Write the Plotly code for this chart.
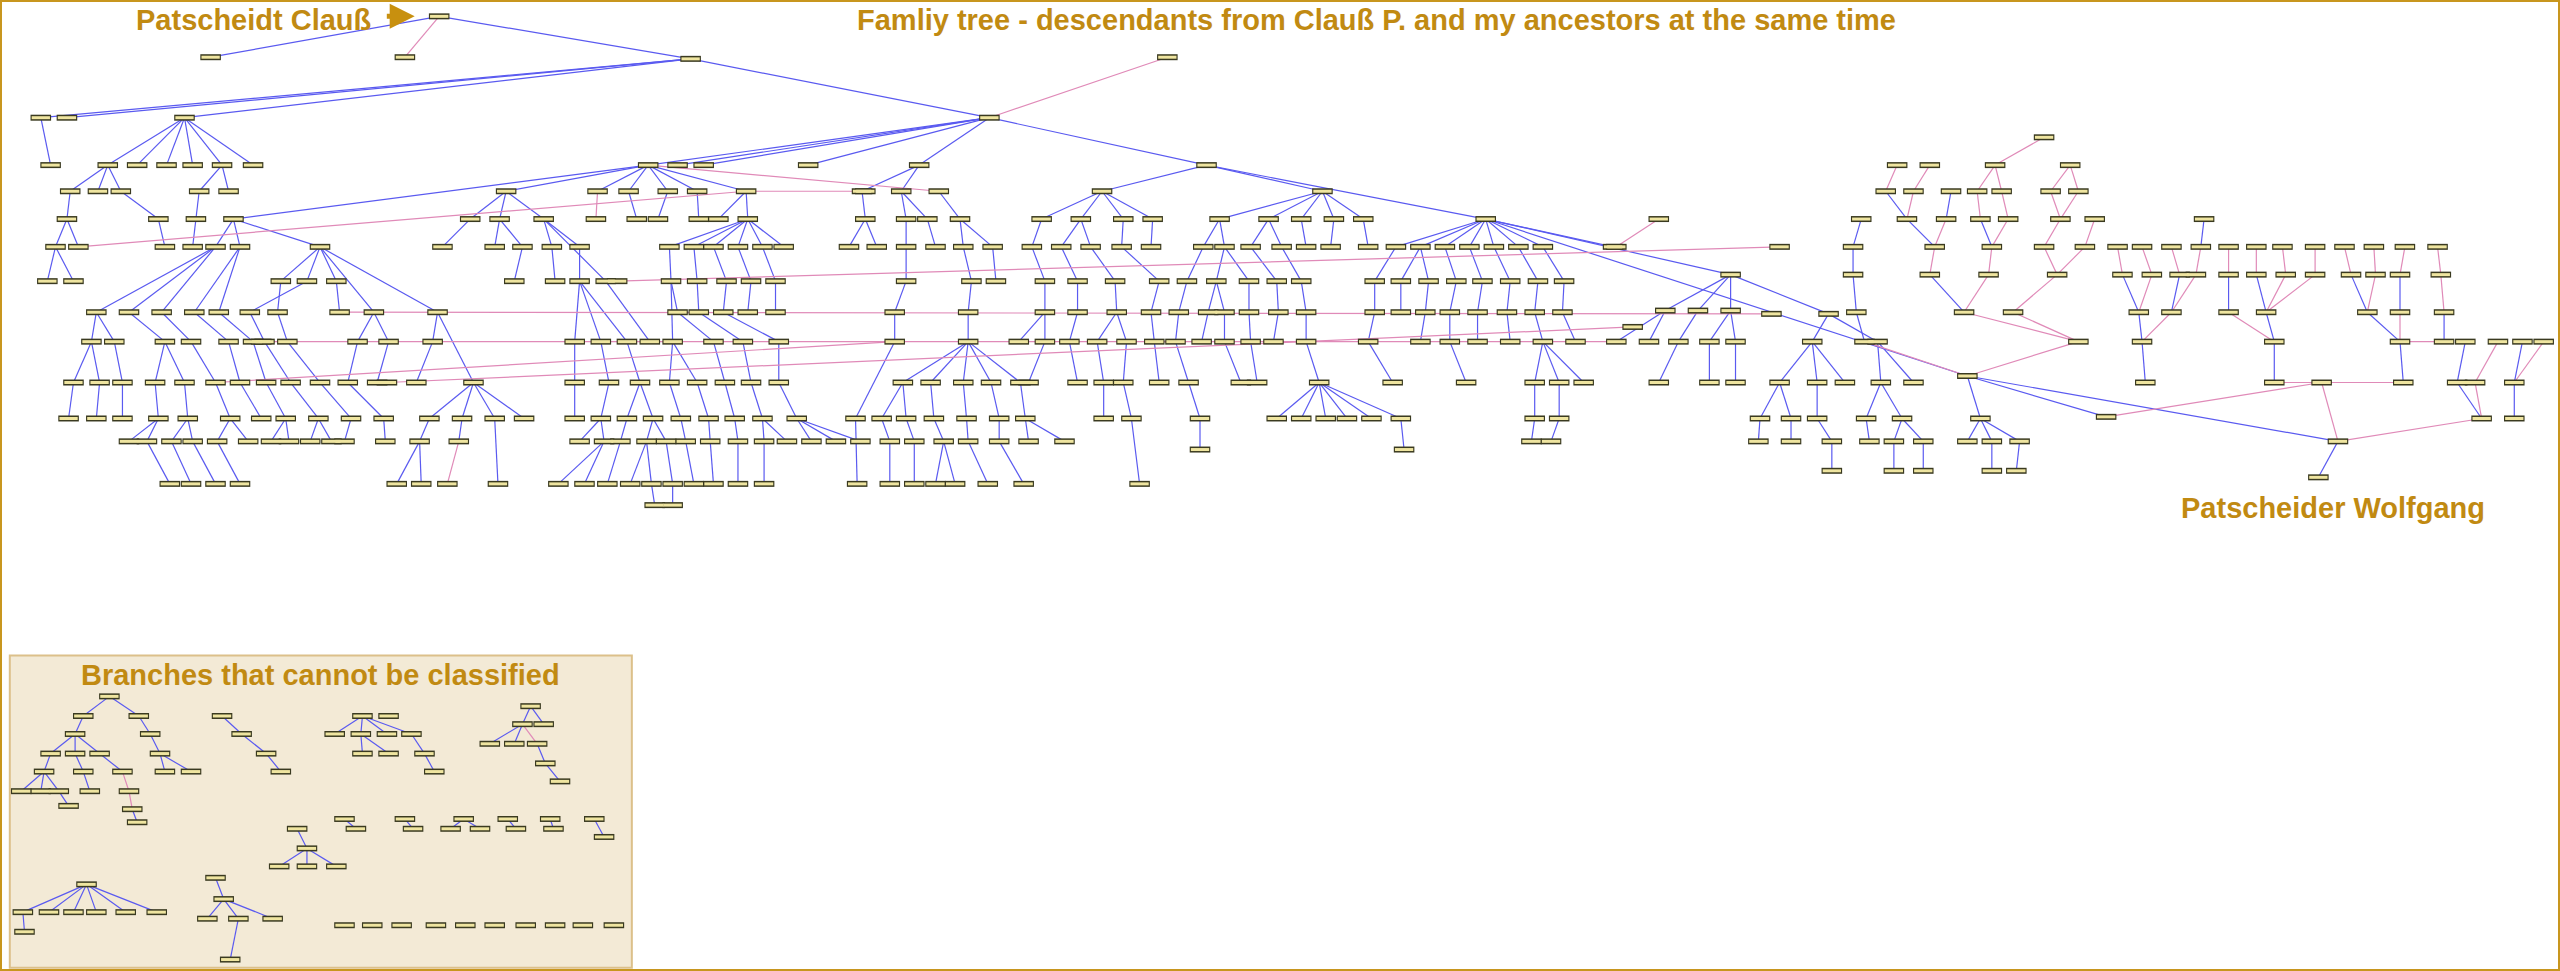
import plotly.graph_objects as go

# ---- data (coordinates in a 1568 x 594 reference grid, y downward) ----
blue_links = [
 (269,10,129,35),(269,10,423,36),(423,36,25,72),(423,36,41,72),(423,36,113,72),(423,36,606,72),
 (25,72,31,101),(113,72,66,101),(113,72,84,101),(113,72,102,101),(113,72,118,101),(113,72,136,101),(113,72,155,101),
 (66,101,43,117),(66,101,60,117),(66,101,74,117),(136,101,122,117),(136,101,140,117),
 (43,117,41,134),(41,134,34,151),(41,134,48,151),(34,151,29,172),(34,151,45,172),
 (122,117,120,134),(74,117,97,134),(120,134,118,151),(97,134,101,151),
 (606,72,397,101),(606,72,415,101),(606,72,431,101),(606,72,495,101),(606,72,563,101),(606,72,739,101),
 (397,101,143,134),(143,134,132,151),(143,134,147,151),(143,134,196,151),
 (132,151,59,191),(132,151,79,191),(132,151,99,191),(147,151,119,191),(147,151,134,191),
 (196,151,172,172),(196,151,188,172),(196,151,206,172),(196,151,229,191),(196,151,268,191),
 (172,172,170,191),(188,172,153,191),(206,172,208,191),
 (59,191,56,209),(59,191,70,209),(79,191,101,209),(99,191,117,209),(119,191,140,209),(134,191,155,209),
 (153,191,162,209),(170,191,176,209),(229,191,219,209),(229,191,238,209),(268,191,265,209),(268,191,290,234),
 (56,209,45,234),(56,209,61,234),(70,209,75,234),(101,209,95,234),(101,209,113,234),(117,209,132,234),
 (140,209,147,234),(155,209,163,234),(162,209,178,234),(176,209,196,234),(219,209,213,234),(238,209,231,234),(265,209,255,234),
 (290,234,263,256),(290,234,283,256),(290,234,303,256),(290,234,321,256),
 (45,234,42,256),(61,234,59,256),(75,234,75,256),(95,234,97,256),(113,234,115,256),(132,234,141,256),
 (147,234,160,256),(163,234,175,256),(178,234,195,256),(196,234,215,256),(213,234,235,256),
 (97,256,79,270),(97,256,90,270),(115,256,105,270),(115,256,118,270),(141,256,133,270),(141,256,152,270),
 (175,256,166,270),(175,256,177,270),(195,256,190,270),(195,256,203,270),(215,256,211,270),(235,256,236,270),
 (263,256,257,270),(283,256,281,270),
 (90,270,104,296),(105,270,117,296),(118,270,132,296),(133,270,147,296),(257,270,243,296),(257,270,258,296),(303,256,305,296),
 (397,101,310,117),(397,101,366,117),(397,101,385,117),(397,101,409,117),(397,101,427,117),(397,101,457,117),
 (310,117,288,134),(310,117,306,134),(310,117,333,134),(385,117,390,134),(409,117,403,134),(427,117,428,134),
 (457,117,440,134),(457,117,458,134),
 (288,134,271,151),(306,134,303,151),(306,134,320,151),(333,134,338,151),(333,134,355,151),(333,134,371,172),
 (458,134,410,151),(458,134,425,151),(458,134,437,151),(458,134,452,151),(458,134,467,151),(458,134,480,151),
 (320,151,315,172),(338,151,340,172),(355,151,355,172),(410,151,411,172),(425,151,427,172),(437,151,445,172),
 (452,151,460,172),(467,151,475,172),
 (411,172,415,191),(427,172,428,191),(445,172,443,191),(460,172,458,191),(475,172,475,191),
 (355,172,352,209),(355,172,368,209),(355,172,384,209),(411,172,412,209),(415,191,437,209),(428,191,455,209),
 (443,191,477,209),(371,172,398,209),
 (352,209,352,234),(368,209,373,234),(384,209,392,234),(412,209,410,234),(412,209,427,234),(437,209,444,234),
 (455,209,460,234),(477,209,477,234),
 (352,234,352,256),(373,234,368,256),(392,234,384,256),(392,234,400,256),(410,234,417,256),(427,234,434,256),
 (444,234,450,256),(460,234,467,256),(477,234,488,256),
 (368,256,355,270),(368,256,370,270),(384,256,380,270),(400,256,396,270),(400,256,408,270),(417,256,420,270),
 (434,256,435,270),(450,256,452,270),(467,256,468,270),(467,256,482,270),(488,256,497,270),(488,256,512,270),(488,256,527,270),
 (370,270,342,296),(370,270,358,296),(380,270,372,296),(396,270,386,296),(396,270,399,296),(408,270,412,296),
 (420,270,425,296),(435,270,437,296),(452,270,452,296),(468,270,468,296),(399,296,401,309),(412,296,412,309),
 (563,101,528,117),(563,101,552,117),
 (528,117,530,134),(552,117,555,134),(552,117,568,134),(575,117,588,134),
 (530,134,520,151),(530,134,537,151),(555,134,555,151),(568,134,573,151),(588,134,590,151),(588,134,608,151),
 (555,151,555,172),(590,151,595,172),(608,151,610,172),(555,172,548,191),(595,172,593,191),
 (548,191,548,209),(593,191,593,209),(548,209,524,256),
 (593,209,553,234),(593,209,570,234),(593,209,590,234),(593,209,607,234),(593,209,625,234),
 (553,234,540,256),(553,234,555,256),(570,234,572,256),(590,234,592,256),(607,234,612,256),(625,234,628,256),
 (540,256,545,270),(555,256,560,270),(572,256,578,270),(592,256,593,270),(612,256,612,270),(628,256,630,270),(628,256,652,270),
 (524,256,525,296),(545,270,545,296),(560,270,560,296),(578,270,573,296),(578,270,585,296),(593,270,605,296),(612,270,627,296),
 (739,101,675,117),(739,101,810,117),(739,101,910,134),
 (675,117,638,134),(675,117,662,134),(675,117,688,134),(675,117,706,134),
 (810,117,747,134),(810,117,777,134),(810,117,797,134),(810,117,817,134),(810,117,835,134),
 (638,134,632,151),(662,134,650,151),(662,134,668,151),(688,134,687,151),(706,134,705,151),(747,134,737,151),
 (747,134,750,151),(777,134,766,151),(777,134,785,151),(797,134,800,151),(817,134,815,151),(835,134,838,151),
 (632,151,640,172),(650,151,660,172),(668,151,683,172),(687,151,710,172),(737,151,727,172),(750,151,745,172),
 (750,151,765,172),(766,151,782,172),(785,151,797,172),
 (640,172,640,191),(660,172,660,191),(683,172,684,191),(710,172,705,191),(727,172,722,191),(745,172,740,191),
 (745,172,750,191),(765,172,765,191),(782,172,783,191),(797,172,800,191),
 (640,191,624,209),(640,191,640,209),(660,191,655,209),(684,191,672,209),(684,191,690,209),(705,191,707,209),
 (722,191,720,209),(740,191,736,209),(750,191,750,209),(765,191,766,209),(783,191,780,209),(800,191,800,209),
 (640,209,630,234),(655,209,660,234),(672,209,676,234),(690,209,688,234),(707,209,710,234),(720,209,728,234),
 (750,209,760,234),(766,209,770,234),(800,209,808,234),
 (676,234,676,256),(688,234,693,256),(728,234,735,256),
 (808,234,782,256),(808,234,797,256),(808,234,812,256),(808,234,825,256),(808,234,840,256),(808,234,858,256),
 (735,256,735,275),(858,256,860,275),(693,256,698,296),
 (910,134,855,151),(910,134,870,151),(910,134,885,151),(910,134,900,151),(910,134,915,151),(910,134,930,151),
 (910,134,945,151),(910,134,988,151),
 (855,151,842,172),(870,151,858,172),(870,151,875,172),(885,151,892,172),(900,151,908,172),(915,151,925,172),
 (930,151,942,172),(945,151,958,172),
 (842,172,842,191),(858,172,858,191),(875,172,873,191),(892,172,888,191),(908,172,905,191),(925,172,923,191),
 (942,172,940,191),(958,172,957,191),
 (842,191,838,209),(873,191,870,209),(888,191,888,209),(905,191,905,209),(923,191,925,209),(940,191,945,209),(957,191,965,209),
 (838,209,853,234),(888,209,898,234),(945,209,940,234),(945,209,955,234),(945,209,970,234),
 (940,234,940,256),(955,234,955,256),(940,256,938,270),(955,256,950,270),
 (910,134,1060,168),(910,134,1205,230),(1205,230,1432,270),(1205,230,1290,255),
 (1060,168,1020,190),(1060,168,1040,190),(1060,168,1060,190),(1060,168,1120,192),
 (1020,190,990,209),(1020,190,1010,209),(1040,190,1028,209),(1060,190,1047,209),(1060,190,1063,209),
 (1120,192,1110,209),(1120,192,1150,209),
 (1028,209,1016,234),(1047,209,1047,234),(1063,209,1063,234),(1110,209,1090,234),(1110,209,1113,234),
 (1110,209,1130,234),(1150,209,1152,234),(1150,209,1172,234),
 (1090,234,1078,256),(1090,234,1097,256),(1113,234,1113,256),(1152,234,1143,256),(1152,234,1165,256),
 (1078,256,1077,270),(1097,256,1097,270),(1113,256,1122,270),(1143,256,1145,270),(1165,256,1160,270),(1165,256,1178,270),
 (1122,270,1122,288),(1160,270,1160,288),(1178,270,1178,288),
 (1205,230,1213,256),(1213,256,1205,270),(1213,256,1220,270),(1213,256,1237,270),(1220,270,1220,288),(1237,270,1235,288),
 (1432,270,1420,292),
 (1155,117,1168,134),(1195,117,1192,134),(1213,134,1220,151),(1168,134,1185,151),(1182,168,1203,191),
 (1140,134,1135,151),(1135,151,1135,168),(1135,168,1137,191),(1137,191,1142,209),
 (1300,168,1310,191),(1335,168,1330,191),(1382,168,1388,191),(1365,168,1365,191),(1440,168,1450,191),
 (1470,168,1470,191),(1350,134,1348,151),(1310,191,1312,209),(1388,191,1393,209),(1450,191,1470,209),
 (1510,209,1505,234),(1545,209,1540,234),(1505,234,1520,256),(1540,234,1540,256),
 (1312,209,1314,234),(1393,209,1393,234),(1470,209,1472,234),(1497,191,1497,209),
]
pink_links = [
 (269,10,248,35),(715,35,606,72),(397,101,575,117),(366,117,365,134),(281,270,274,296),
 (48,151,457,117),(378,172,1090,151),(208,191,1085,192),(160,209,990,209),(132,234,548,209),
 (237,234,1000,200),(1016,134,990,151),(457,117,530,117),
 (1252,84,1222,101),(1222,101,1211,117),(1222,101,1226,117),(1182,101,1172,117),(1162,101,1155,117),
 (1268,101,1256,117),(1268,101,1273,117),(1172,117,1168,134),(1211,117,1213,134),(1226,117,1230,134),
 (1256,117,1262,134),(1273,117,1262,134),(1192,134,1185,151),(1230,134,1220,151),(1262,134,1252,151),
 (1283,134,1277,151),(1185,151,1182,168),(1220,151,1218,168),(1252,151,1260,168),(1277,151,1260,168),
 (1218,168,1203,191),(1260,168,1233,191),(1203,191,1273,209),(1233,191,1273,209),(1273,209,1205,230),
 (1142,209,1205,230),
 (1297,151,1300,168),(1312,151,1318,168),(1330,151,1335,168),(1348,151,1345,168),(1318,168,1310,191),
 (1345,168,1330,191),(1330,191,1312,209),
 (1365,151,1365,168),(1382,151,1382,168),(1398,151,1400,168),(1418,151,1418,168),(1400,168,1388,191),
 (1418,168,1388,191),(1365,191,1393,209),
 (1436,151,1440,168),(1454,151,1455,168),(1473,151,1470,168),(1493,151,1495,168),(1455,168,1450,191),
 (1495,168,1497,191),(1470,191,1470,209),(1497,209,1470,209),
 (1393,234,1422,234),(1472,234,1422,234),(1422,234,1432,270),(1290,255,1422,234),
 (1530,209,1516,234),(1558,209,1540,234),(1516,234,1520,256),(1520,256,1432,270),
]
extra_nodes = [(1016,134),(1350,134)]

panel_blue = [
 (67,426,51,438),(67,426,85,438),(51,438,46,449),(85,438,92,449),(46,449,31,461),(46,449,46,461),(46,449,61,461),
 (92,449,98,461),(31,461,27,472),(46,461,51,472),(61,461,75,472),(98,461,101,472),(98,461,117,472),
 (27,472,13,484),(27,472,25,484),(27,472,36,484),(51,472,55,484),(36,484,42,493),(81,495,84,503),
 (136,438,148,449),(148,449,163,461),(163,461,172,472),
 (222,438,205,449),(222,438,221,449),(222,438,237,449),(222,438,252,449),(221,449,222,461),(221,449,238,461),
 (252,449,260,461),(260,461,266,472),
 (325,432,320,443),(325,432,333,443),(320,443,300,455),(320,443,315,455),(329,455,334,467),(334,467,343,478),
 (211,501,218,507),(248,501,253,507),(284,501,276,507),(284,501,294,507),(311,501,316,507),(337,501,339,507),(364,501,370,512),
 (182,507,188,519),(188,519,171,530),(188,519,188,530),(188,519,206,530),
 (53,541,14,558),(53,541,30,558),(53,541,45,558),(53,541,59,558),(53,541,77,558),(53,541,96,558),(14,558,15,570),
 (132,537,137,550),(137,550,127,562),(137,550,146,562),(137,550,167,562),(146,562,141,587),
]
panel_pink = [(75,472,79,484),(79,484,81,495),(320,443,329,455)]
panel_extra = [(238,438),(333,443),(211,566),(228,566),(246,566),(267,566),(285,566),(303,566),(322,566),(340,566),(357,566),(376,566)]

# ---- build ----
def seg(links):
    xs, ys = [], []
    for a, b, c, d in links:
        xs += [a, c, None]; ys += [b, d, None]
    return xs, ys

nodes = []
seen = set()
for lst in (blue_links, pink_links, panel_blue, panel_pink):
    for a, b, c, d in lst:
        for p in ((a, b), (c, d)):
            if p not in seen:
                seen.add(p); nodes.append(p)
for p in extra_nodes + panel_extra:
    if p not in seen:
        seen.add(p); nodes.append(p)

fig = go.Figure()
fig.add_shape(type="rect", x0=6, x1=387, y0=401, y1=592, fillcolor="#f3ead6",
              line=dict(color="#dcc08a", width=2), layer="below")
for lst, col in ((blue_links + panel_blue, "#5a5af0"), (pink_links + panel_pink, "#e08ab8")):
    x, y = seg(lst)
    fig.add_trace(go.Scatter(x=x, y=y, mode="lines", line=dict(color=col, width=1.2), hoverinfo="skip"))

ox, oy, ix, iy = [], [], [], []
for x, y in nodes:
    ox += [x - 6.3, x + 6.3, None]; oy += [y, y, None]
    ix += [x - 5.6, x + 5.6, None]; iy += [y, y, None]
fig.add_trace(go.Scatter(x=ox, y=oy, mode="lines", line=dict(color="#3a3a20", width=6), hoverinfo="skip"))
fig.add_trace(go.Scatter(x=ix, y=iy, mode="lines", line=dict(color="#efe5a0", width=3), hoverinfo="skip"))

font = "Liberation Sans Narrow, Liberation Sans, Arial"
gold = "#c18a12"
fig.add_annotation(x=155, y=12, text="<b>Patscheidt Clauß</b>", showarrow=False,
                   font=dict(family=font, size=29, color=gold))
fig.add_annotation(x=843, y=12, text="<b>Famliy tree - descendants from Clauß P. and my ancestors at the same time</b>",
                   showarrow=False, font=dict(family=font, size=29, color=gold))
fig.add_annotation(x=1429, y=311, text="<b>Patscheider Wolfgang</b>", showarrow=False,
                   font=dict(family=font, size=29, color=gold))
fig.add_annotation(x=196, y=413, text="<b>Branches that cannot be classified</b>", showarrow=False,
                   font=dict(family=font, size=29, color=gold))
fig.add_annotation(x=254, y=10, ax=236, ay=10, axref="x", ayref="y", text="", showarrow=True,
                   arrowhead=2, arrowsize=1, arrowwidth=5, arrowcolor="#c8900f")
fig.add_shape(type="rect", xref="paper", yref="paper", x0=0, x1=1, y0=0, y1=1,
              line=dict(color="#c8961e", width=4))

fig.update_layout(width=2560, height=971, margin=dict(l=0, r=0, t=0, b=0), showlegend=False,
                  plot_bgcolor="white", paper_bgcolor="white",
                  xaxis=dict(range=[0, 1568], visible=False, fixedrange=True),
                  yaxis=dict(range=[594, 0], visible=False, fixedrange=True))
fig.write_html("out.html", config={"displayModeBar": False},
               post_script="document.body.style.margin='0px';document.body.style.overflow='hidden';")
